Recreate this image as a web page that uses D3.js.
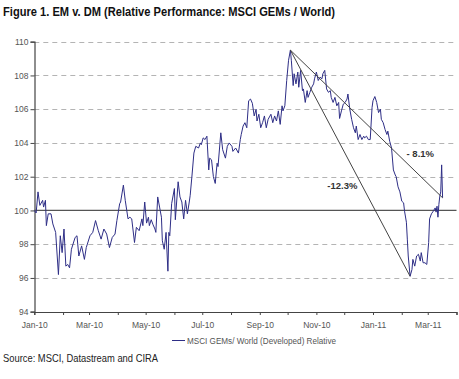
<!DOCTYPE html>
<html>
<head>
<meta charset="utf-8">
<script src="https://cdn.jsdelivr.net/npm/d3@7"></script>
<style>
  html, body { margin: 0; padding: 0; background: #fff; }
  svg { display: block; }
</style>
</head>
<body>
<svg id="chart" width="459" height="379"></svg>
<script>
// ---------- DATA ----------
const dates = [
  "2010-01-01","2010-01-03","2010-01-05","2010-01-07","2010-01-10","2010-01-11","2010-01-13","2010-01-14","2010-01-16","2010-01-19",
  "2010-01-21","2010-01-24","2010-01-27","2010-01-29","2010-01-31","2010-02-02","2010-02-04","2010-02-06","2010-02-08","2010-02-10",
  "2010-02-14","2010-02-16","2010-02-18","2010-02-21","2010-02-24","2010-02-26","2010-03-02","2010-03-05","2010-03-08","2010-03-11",
  "2010-03-14","2010-03-17","2010-03-20","2010-03-23","2010-03-26","2010-03-29","2010-03-31","2010-04-03",
  "2010-04-04","2010-04-07","2010-04-09","2010-04-12","2010-04-14","2010-04-16","2010-04-19","2010-04-21","2010-04-24","2010-04-27",
  "2010-04-28","2010-04-30","2010-05-02","2010-05-04","2010-05-05","2010-05-07","2010-05-09","2010-05-11","2010-05-12","2010-05-14",
  "2010-05-16","2010-05-18","2010-05-19","2010-05-21","2010-05-23","2010-05-25","2010-05-26","2010-05-27","2010-05-29","2010-06-01",
  "2010-06-02","2010-06-05","2010-06-07","2010-06-09","2010-06-11","2010-06-13","2010-06-15","2010-06-17","2010-06-18","2010-06-20",
  "2010-06-22","2010-06-24","2010-06-27","2010-06-29","2010-06-30","2010-07-02",
  "2010-07-04","2010-07-06","2010-07-08","2010-07-09","2010-07-11","2010-07-13","2010-07-15","2010-07-17","2010-07-18","2010-07-21",
  "2010-07-23","2010-07-26","2010-07-28","2010-07-30","2010-08-02","2010-08-03","2010-08-06","2010-08-09","2010-08-11","2010-08-12",
  "2010-08-14","2010-08-16","2010-08-18","2010-08-20","2010-08-22","2010-08-24","2010-08-26","2010-08-28","2010-08-29","2010-08-31",
  "2010-09-02","2010-09-04","2010-09-06","2010-09-08","2010-09-10","2010-09-13","2010-09-15","2010-09-17","2010-09-19","2010-09-21",
  "2010-09-23","2010-09-25","2010-09-26","2010-09-28","2010-09-30","2010-10-02","2010-10-04",
  "2010-10-05","2010-10-07","2010-10-08","2010-10-10","2010-10-12","2010-10-13","2010-10-15","2010-10-17","2010-10-18","2010-10-20",
  "2010-10-22","2010-10-23","2010-10-25","2010-10-27","2010-10-29","2010-10-30","2010-11-01","2010-11-03","2010-11-05","2010-11-07",
  "2010-11-08","2010-11-10","2010-11-12","2010-11-14","2010-11-16","2010-11-17","2010-11-19","2010-11-21","2010-11-23","2010-11-25",
  "2010-11-26","2010-11-28","2010-11-30","2010-12-02","2010-12-04","2010-12-05","2010-12-07","2010-12-09","2010-12-11","2010-12-13",
  "2010-12-14","2010-12-16","2010-12-18","2010-12-20","2010-12-22","2010-12-23","2010-12-25","2010-12-27","2010-12-29",
  "2010-12-31","2011-01-01","2011-01-03","2011-01-05","2011-01-07","2011-01-09","2011-01-10","2011-01-12","2011-01-14","2011-01-16",
  "2011-01-17","2011-01-19","2011-01-21","2011-01-23","2011-01-25","2011-01-26","2011-01-28","2011-01-30","2011-02-01","2011-02-03",
  "2011-02-04","2011-02-06","2011-02-07","2011-02-08","2011-02-10","2011-02-12","2011-02-13","2011-02-15","2011-02-17","2011-02-19",
  "2011-02-21","2011-02-22","2011-02-24","2011-02-26","2011-02-28","2011-03-02","2011-03-03","2011-03-05","2011-03-07","2011-03-09",
  "2011-03-10","2011-03-11","2011-03-12","2011-03-13","2011-03-14","2011-03-15","2011-03-16","2011-03-17"
];
const values = [
  100.0,99.85,101.1,100.3,100.6,100.2,100.6,99.1,99.8,99.8,
  99.2,98.7,96.2,98.5,97.5,98.9,96.7,96.8,96.6,97.7,
  98.4,98.5,97.3,97.9,97.1,97.8,98.5,98.7,99.4,98.8,
  98.3,98.9,98.6,97.8,98.4,98.6,99.4,100.4,
  100.5,101.5,100.6,99.5,99.6,99.5,98.1,99.0,98.8,99.5,
  99.1,100.5,99.25,99.6,99.1,99.45,99.15,98.9,98.7,100.8,
  100.2,99.6,98.2,97.7,98.7,96.4,98.7,98.5,100.4,101.3,
  99.45,101.7,100.8,100.5,99.5,100.6,99.8,100.5,100.9,102.1,
  103.4,103.8,103.7,104.0,103.9,104.3,
  104.2,104.4,102.4,103.1,103.0,102.0,101.6,102.8,102.6,104.6,
  103.6,103.1,103.8,104.0,103.8,103.5,103.7,103.4,104.2,104.5,
  105.0,105.2,104.9,106.5,106.6,106.35,105.6,106.0,105.3,105.7,
  104.9,105.2,105.6,104.9,105.4,105.7,105.2,105.6,105.3,105.9,
  105.1,106.2,105.9,106.2,107.7,108.9,109.5,
  108.9,107.4,108.1,107.5,108.2,107.3,108.3,107.1,107.2,106.4,
  107.1,106.7,107.0,107.3,107.5,107.8,108.2,107.7,107.9,107.8,
  108.1,108.3,107.2,107.0,107.1,106.7,106.4,106.7,106.2,106.4,
  105.45,105.9,106.3,106.4,106.6,106.9,106.0,105.4,104.9,104.6,
  105.0,104.2,104.5,104.2,104.4,104.3,104.4,104.2,104.2,
  106.1,106.5,106.75,106.4,105.8,106.0,105.4,105.2,104.8,104.5,
  104.7,104.1,103.7,102.4,102.1,102.0,101.4,101.1,100.55,100.45,
  99.96,99.3,98.3,97.3,96.1,96.5,97.1,96.7,97.3,97.4,
  97.0,97.5,96.9,96.9,96.8,98.1,99.5,99.8,99.96,100.15,
  99.9,100.25,99.6,100.35,100.85,101.1,102.7,100.75
];
const seriesName = "MSCI GEMs/ World (Developed) Relative";

const yTicks = [94, 96, 98, 100, 102, 104, 106, 108, 110];
const xTickLabels = ["Jan-10","Mar-10","May-10","Jul-10","Sep-10","Nov-10","Jan-11","Mar-11"];

// trend lines: [start date, start value, end date, end value]
const trendStarts = ["2010-10-04", "2010-10-04"];
const trendStartValues = [109.5, 109.5];
const trendEnds = ["2011-02-10", "2011-03-17"];
const trendEndValues = [96.1, 100.75];
const trendLabels = ["-12.3%", "- 8.1%"];
const trendLabelDates = ["2010-11-29", "2011-02-21"];
const trendLabelValues = [101.45, 103.35];

const titleText = "Figure 1. EM v. DM (Relative Performance: MSCI GEMs / World)";
const sourceText = "Source: MSCI, Datastream and CIRA";

// ---------- DRAW ----------
const parse = d3.timeParse("%Y-%m-%d");
const svg = d3.select("#chart");
const font = "'Liberation Sans', Arial, sans-serif";

const x = d3.scaleTime()
  .domain([new Date(2010, 0, 1), new Date(2011, 3, 1)])
  .range([34.3, 456.5]);
const y = d3.scaleLinear().domain([94, 110]).range([311.7, 41.7]);

// title
svg.append("text")
  .attr("x", 3).attr("y", 16)
  .attr("font-family", font).attr("font-weight", "bold").attr("font-size", 13.5)
  .attr("fill", "#111")
  .attr("textLength", 332).attr("lengthAdjust", "spacingAndGlyphs")
  .text(titleText);

// gridlines
svg.append("g").selectAll("line").data(yTicks.filter(v => v !== 94 && v !== 100))
  .join("line")
  .attr("x1", 34.3).attr("x2", 456.5)
  .attr("y1", d => Math.round(y(d)) + 0.5).attr("y2", d => Math.round(y(d)) + 0.5)
  .attr("stroke", "#b4b4b4").attr("stroke-width", 1).attr("stroke-dasharray", "5,4");

// y axis
const yAxis = d3.axisLeft(y).tickValues(yTicks).tickSize(4).tickPadding(2).tickFormat(d3.format("d"));
const gy = svg.append("g").attr("transform", "translate(34.5,0)").call(yAxis);
gy.select(".domain").attr("stroke", "#444").attr("stroke-width", 1.2);
gy.selectAll(".tick line").attr("stroke", "#444");
gy.selectAll(".tick text").attr("font-family", font).attr("font-size", 8.5).attr("fill", "#555");

// x axis
const monthTicks = d3.timeMonth.range(new Date(2010, 0, 1), new Date(2011, 3, 2));
const xAxis = d3.axisBottom(x).tickValues(monthTicks).tickSize(3).tickPadding(7)
  .tickFormat(d => {
    const s = d3.timeFormat("%b-%y")(d);
    return xTickLabels.includes(s) ? s : "";
  });
const gx = svg.append("g").attr("transform", "translate(0,312)").call(xAxis);
gx.select(".domain").attr("stroke", "#444").attr("stroke-width", 1.2);
gx.selectAll(".tick line").attr("stroke", "#444");
gx.selectAll(".tick text").attr("font-family", font).attr("font-size", 8.5).attr("fill", "#555");

// 100 line
svg.append("line")
  .attr("x1", 34.3).attr("x2", 456.5)
  .attr("y1", y(100)).attr("y2", y(100))
  .attr("stroke", "#555").attr("stroke-width", 1.3);

// series
const data = dates.map((d, i) => ({ date: parse(d), value: values[i] }));
svg.append("path").datum(data)
  .attr("fill", "none").attr("stroke", "#2e2e86").attr("stroke-width", 1)
  .attr("stroke-linejoin", "round")
  .attr("d", d3.line().x(d => x(d.date)).y(d => y(d.value)));

// trend lines
svg.append("g").selectAll("line").data(trendStarts)
  .join("line")
  .attr("x1", (d, i) => x(parse(d))).attr("y1", (d, i) => y(trendStartValues[i]))
  .attr("x2", (d, i) => x(parse(trendEnds[i]))).attr("y2", (d, i) => y(trendEndValues[i]))
  .attr("stroke", "#444").attr("stroke-width", 1);

svg.append("g").selectAll("text").data(trendLabels)
  .join("text")
  .attr("x", (d, i) => x(parse(trendLabelDates[i])))
  .attr("y", (d, i) => y(trendLabelValues[i]) + 3.5)
  .attr("text-anchor", "middle")
  .attr("font-family", font).attr("font-size", 9.5).attr("font-weight", "bold")
  .attr("fill", "#333")
  .text(d => d);

// legend
svg.append("line").attr("x1", 172).attr("x2", 185).attr("y1", 340.5).attr("y2", 340.5)
  .attr("stroke", "#2e2e86").attr("stroke-width", 1);
svg.append("text").attr("x", 187).attr("y", 343.5)
  .attr("font-family", font).attr("font-size", 8.5).attr("fill", "#555")
  .attr("textLength", 149).attr("lengthAdjust", "spacingAndGlyphs")
  .text(seriesName);

// source
svg.append("text").attr("x", 3).attr("y", 361.5)
  .attr("font-family", font).attr("font-size", 10.5).attr("fill", "#222")
  .attr("textLength", 155).attr("lengthAdjust", "spacingAndGlyphs")
  .text(sourceText);
</script>
</body>
</html>
